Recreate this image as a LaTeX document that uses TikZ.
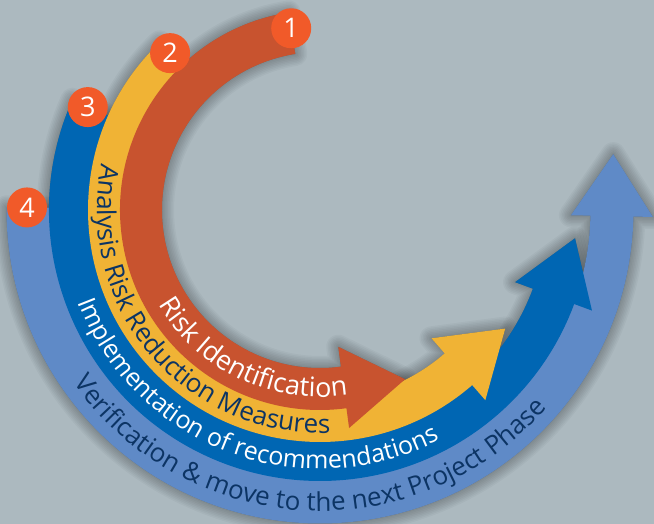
\documentclass[tikz,border=0pt]{standalone}
\usepackage{fontspec}
\setmainfont{Open Sans}
\usetikzlibrary{calc,decorations.text}
\definecolor{bg}{RGB}{172,185,191}
\definecolor{bandred}{RGB}{200,83,47}
\definecolor{bandyellow}{RGB}{240,179,53}
\definecolor{banddark}{RGB}{0,102,179}
\definecolor{bandlight}{RGB}{95,138,199}
\definecolor{badgecol}{RGB}{241,90,41}
\definecolor{navy}{RGB}{12,52,100}
% #1 radius, #2 half width, #3 start angle, #4 end angle
\newcommand\bandshape[4]{($(C)+(#3:#1+#2)$) arc[start angle=#3, end angle=#4, radius=#1+#2]
  -- ($(C)+(#4:#1+41)$) -- ($(C)+(#4:#1)+(#4+90:62)$) -- ($(C)+(#4:#1-41)$)
  -- ($(C)+(#4:#1-#2)$) arc[start angle=#4, end angle=#3, radius=#1-#2] -- cycle}
% soft shadow of a band
\newcommand\bandshadowof[4]{%
  \fill[black, opacity=0.22, shift={(7,-8)}] \bandshape{#1}{#2}{#3}{#4};
  \foreach \k in {1,...,8}{\draw[black, opacity=0.03, line width=\k*3pt, line join=round, shift={(7,-8)}] \bandshape{#1}{#2}{#3}{#4};}}
% #1 radius, #2 mid angle, #3 half span, #4 text
\newcommand\textarc[4]{\path[decorate, decoration={text along path, text align=center, text={#4}}]
  ($(C)+(#2-#3:#1)$) arc[start angle=#2-#3, end angle=#2+#3, radius=#1];}
\tikzset{
  badgenode/.style={circle, fill=badgecol, minimum size=40pt, inner sep=0pt, text=white, font=\fontsize{27}{30}\selectfont}
}
\begin{document}
\begin{tikzpicture}[x=1pt,y=1pt]
\useasboundingbox (0,0) rectangle (654,524);
\clip (0,0) rectangle (654,524);
\fill[bg] (0,0) rectangle (654,524);
\coordinate (C) at (320,314);
% shadows
\bandshadowof{292}{21.5}{179.5}{358.8}
\bandshadowof{249}{22}{156}{339.7}
\bandshadowof{211}{21}{133.7}{311}
\bandshadowof{179}{21}{99}{277.6}
% band 4
\fill[bandlight] \bandshape{292}{21.5}{179.5}{358.8};
\textarc{301}{267}{70}{|\fontsize{26}{30}\selectfont\color{navy}|Verification {\&} move to the next Project Phase}
% band 3
\fill[banddark] \bandshape{249}{22}{156}{339.7};
\textarc{259}{249.2}{70}{|\fontsize{25}{30}\selectfont\color{white}|Implementation of recommendations}
% band 2
\fill[bandyellow] \bandshape{211}{21}{133.7}{311};
\textarc{223}{220.3}{70}{|\fontsize{26}{30}\selectfont\color{navy}|Analysis Risk Reduction Measures}
% band 1
\fill[bandred] \bandshape{179}{21}{99}{277.6};
\textarc{187}{244.5}{70}{|\fontsize{27}{30}\selectfont\color{white}|Risk Identification}
% badges
\node[badgenode] (b4) at ($(C)+(179.5:293)$) {4};
\node[badgenode] (b3) at ($(C)+(156.1:254)$) {3};
\node[badgenode] (b2) at ($(C)+(133.7:217)$) {2};
\node[badgenode] (b1) at ($(C)+(99:184)$) {1};
\end{tikzpicture}
\end{document}
